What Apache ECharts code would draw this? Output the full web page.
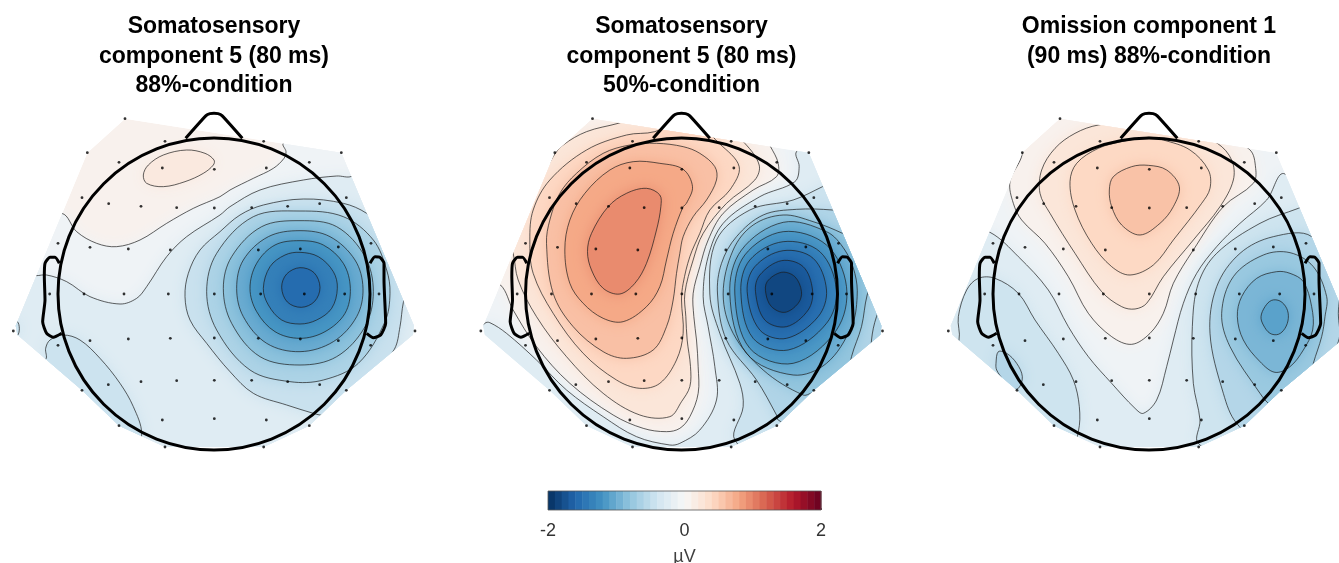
<!DOCTYPE html>
<html><head><meta charset="utf-8">
<style>html,body{margin:0;padding:0;background:#fff}#c{width:1339px;height:563px}</style>
<script src="https://cdn.jsdelivr.net/npm/echarts@6/dist/echarts.min.js"></script></head>
<body><div id="c"></div>
<script>
// Scalp coordinates: head radius = 468 units, nose up.
const titles = ['Somatosensory\ncomponent 5 (80 ms)\n88%-condition','Somatosensory\ncomponent 5 (80 ms)\n50%-condition','Omission component 1\n(90 ms) 88%-condition'];
const colorStops = ['#053061','#2166ac','#4393c3','#92c5de','#d1e5f0','#f7f7f7','#fddbc7','#f4a582','#d6604d','#b2182b','#67001f'];
const colorbarBins = [-2,-1.9,-1.8,-1.7,-1.6,-1.5,-1.4,-1.3,-1.2,-1.1,-1,-0.9,-0.8,-0.7,-0.6,-0.5,-0.4,-0.3,-0.2,-0.1,0,0.1,0.2,0.3,0.4,0.5,0.6,0.7,0.8,0.9,1,1.1,1.2,1.3,1.4,1.5,1.6,1.7,1.8,1.9];
const headRadius = 468;
const noseLine = [[-85,467],[-24,535],[-12,541],[0,542],[12,541],[24,535],[85,467]];
const earLeft = [[-464,92],[-477,110],[-492,110],[-507,92],[-509,52],[-507,-18],[-514,-83],[-502,-118],[-482,-130],[-457,-118]];
const earRight = [[468,92],[483,112],[498,110],[510,92],[510,42],[515,-88],[500,-123],[478,-131],[458,-118]];
const electrodes = [[-267,526],[-147,458],[-380,424],[-285,395],[-155,378],[1,374],[-396,289],[-316,271],[-219,263],[-112,259],[1,258],[-468,152],[-372,140],[-257,135],[-131,132],[-493,0],[-390,0],[-270,0],[-137,0],[1,0],[-602,-111],[-372,-140],[-257,-135],[-131,-133],[1,-132],[-468,-154],[-317,-272],[-219,-263],[-112,-260],[1,-259],[-396,-289],[-285,-395],[-155,-378],[1,-374],[-147,-459],[149,458],[382,424],[286,395],[157,378],[397,289],[317,271],[221,263],[113,259],[471,152],[373,141],[259,135],[133,132],[495,0],[392,0],[271,0],[140,0],[603,-111],[470,-154],[373,-140],[259,-135],[133,-133],[397,-289],[317,-272],[221,-263],[113,-259],[286,-395],[157,-378],[149,-459]];
const hull = [[-267,526],[382,424],[600,-95],[597,-122],[397,-289],[286,-395],[149,-459],[-147,-459],[-285,-395],[-396,-289],[-590,-122],[-595,-95],[-380,424]];

// Panel 1 contours
const p1Top = [[-212,357],[-197,387],[-152,417],[-82,432],[-27,422],[0,402],[-2,387],[-32,362],[-87,337],[-152,322],[-202,332]];
const p1Zero = [[-457,242],[-412,187],[-352,152],[-292,142],[-222,162],[-142,212],[-62,257],[18,292],[48,312],[118,347],[178,377],[210,407],[216,427],[208,452],[300,520],[760,50],[760,-250],[300,-580],[-300,-580],[-760,-250],[-620,230]];
const p1Lower = [[-534,55],[-502,57],[-442,37],[-372,-8],[-282,-30],[-232,-13],[-202,22],[-142,112],[-82,172],[18,237],[48,262],[138,312],[268,342],[368,354],[413,353],[480,400],[720,0],[720,-200],[300,-560],[-300,-560],[-720,-200],[-640,60]];
const p1Corner = [[-505,-196],[-505,-163],[-492,-138],[-452,-123],[-402,-138],[-342,-193],[-282,-268],[-242,-338],[-217,-418],[-240,-470],[-420,-370],[-560,-230]];
const p1Tip = [[-590,-83],[-590,-125],[-640,-125],[-640,-83]];
const p1Ring7 = [[18,187],[-42,132],[-77,62],[-87,-8],[-72,-78],[-22,-148],[48,-233],[118,-298],[218,-333],[298,-358],[318,-363],[388,-368],[458,-278],[541,-166],[558,-98],[568,-26],[588,42],[558,162],[458,242],[388,272],[268,285],[148,267],[78,237]];
const p1Ring6 = [[-22,7],[8,122],[118,232],[258,249],[388,232],[478,162],[518,72],[528,2],[513,-83],[433,-208],[328,-258],[228,-263],[108,-228],[8,-108]];
const p1Ring5 = [[28,17],[53,112],[143,202],[258,220],[368,202],[453,112],[478,7],[453,-98],[368,-188],[258,-213],[138,-188],[53,-88]];
const p1Ring4 = [[68,17],[88,102],[163,172],[258,190],[348,172],[423,102],[447,17],[428,-68],[358,-143],[258,-173],[158,-148],[88,-68]];
const p1Ring3 = [[108,17],[128,92],[183,147],[258,160],[328,147],[388,92],[409,17],[393,-58],[333,-113],[258,-133],[183,-113],[128,-53]];
const p1Ring2 = [[148,17],[168,82],[213,117],[258,125],[313,112],[358,67],[370,17],[353,-43],[308,-78],[258,-90],[203,-78],[163,-33]];
const p1Ring1 = [[203,20],[218,60],[258,79],[300,64],[318,20],[302,-22],[262,-40],[220,-24]];

// Panel 2 contours
const p2Red5 = [[-282,127],[-270,182],[-220,262],[-165,302],[-105,317],[-65,297],[-62,262],[-75,192],[-105,92],[-140,32],[-185,0],[-235,17],[-270,72]];
const p2Red4 = [[-350,132],[-335,222],[-290,302],[-215,372],[-145,397],[-65,392],[5,374],[33,322],[15,272],[5,262],[-25,182],[-45,102],[-65,22],[-105,-38],[-175,-83],[-235,-73],[-295,-28],[-335,32]];
const p2Red3 = [[-405,152],[-395,222],[-365,302],[-315,362],[-235,422],[-155,447],[-75,452],[5,442],[55,422],[100,382],[105,342],[75,282],[35,232],[5,172],[-5,122],[-15,62],[-25,-18],[-45,-98],[-85,-168],[-165,-193],[-235,-173],[-325,-98],[-385,2]];
const p2Red2 = [[-455,162],[-445,252],[-395,342],[-285,432],[-165,477],[-80,487],[20,530],[113,452],[173,382],[145,312],[85,252],[55,182],[25,112],[5,32],[0,-18],[5,-118],[-15,-198],[-65,-268],[-125,-283],[-195,-258],[-295,-178],[-385,-58],[-445,62]];
const p2Red1 = [[-190,512],[-285,487],[-355,447],[-385,412],[-455,282],[-525,182],[-505,122],[-490,42],[-435,-68],[-345,-188],[-235,-298],[-125,-363],[-35,-368],[0,-323],[25,-278],[27,-218],[17,-138],[13,-68],[10,2],[35,102],[65,182],[135,272],[220,342],[233,387],[190,452],[100,530],[0,550],[-100,540]];
const p2Zero = [[-543,27],[-505,-48],[-435,-158],[-335,-268],[-205,-363],[-115,-403],[-45,-413],[-5,-403],[25,-368],[50,-298],[50,-218],[45,-138],[37,-68],[35,2],[55,82],[80,162],[125,242],[215,312],[285,352],[290,392],[267,442],[200,560],[-300,640],[-560,300],[-640,80]];
const p2Blue1 = [[-590,-88],[-575,-86],[-525,-118],[-435,-198],[-345,-288],[-235,-368],[-135,-428],[-35,-453],[-5,-448],[55,-408],[105,-318],[100,-218],[80,-98],[65,-8],[80,112],[125,212],[235,292],[340,337],[353,382],[345,427],[420,470],[720,40],[720,-300],[300,-580],[-300,-580],[-660,-180]];
const p2Blue2 = [[423,322],[335,282],[205,252],[105,162],[85,0],[115,-118],[175,-268],[185,-338],[160,-438],[300,-520],[560,-300],[570,-138],[585,-68],[650,100],[520,370]];
const p2Blue3 = [[453,252],[345,254],[245,237],[165,172],[120,92],[108,0],[135,-138],[225,-258],[285,-363],[290,-378],[400,-430],[620,-200],[680,0],[540,240]];
const p2Blue4 = [[483,182],[395,217],[305,237],[215,207],[155,132],[125,0],[155,-118],[245,-228],[365,-303],[400,-296],[480,-330],[510,-188],[540,-98],[557,-3],[590,90],[540,150]];
const p2Blue5 = [[145,0],[180,132],[305,215],[435,187],[490,132],[520,62],[527,-8],[510,-98],[435,-208],[335,-243],[195,-178]];
const p2Blue6 = [[160,0],[190,117],[305,187],[435,147],[495,22],[465,-108],[335,-208],[205,-163]];
const p2Blue7 = [[178,7],[205,102],[305,157],[415,127],[465,12],[435,-88],[320,-168],[215,-133]];
const p2Blue8 = [[197,7],[220,82],[305,130],[395,107],[435,12],[410,-68],[315,-133],[235,-108]];
const p2Blue9 = [[222,7],[235,57],[300,100],[365,82],[393,12],[380,-48],[315,-98],[250,-78]];
const p2Blue10 = [[253,2],[257,37],[300,65],[340,52],[360,7],[350,-28],[310,-55],[270,-38]];

// Panel 3 contours
const p3Red3 = [[-119,312],[-107,352],[-52,382],[-2,386],[53,372],[91,322],[73,262],[33,212],[-27,177],[-82,207],[-112,262]];
const p3Red2 = [[-237,337],[-217,392],[-152,437],[-82,457],[-2,470],[43,462],[123,432],[178,372],[183,317],[158,272],[73,162],[13,87],[-57,57],[-112,82],[-172,152],[-222,252]];
const p3Red1 = [[-152,507],[-222,482],[-282,437],[-322,372],[-327,302],[-297,242],[-222,122],[-142,7],[-82,-38],[-42,-45],[-7,-28],[43,52],[133,162],[213,262],[253,342],[248,402],[205,452],[50,530]];
const p3Zero = [[-380,427],[-417,337],[-407,272],[-382,222],[-312,152],[-242,52],[-182,-58],[-112,-128],[-52,-151],[3,-118],[43,-58],[73,32],[133,132],[223,262],[313,332],[320,377],[301,434],[100,560],[-250,600],[-420,480]];
const p3Blue1 = [[-477,185],[-392,112],[-302,12],[-242,-98],[-182,-188],[-112,-268],[-42,-343],[-17,-358],[23,-318],[53,-218],[73,-138],[103,-28],[143,62],[203,142],[273,212],[353,282],[408,360],[700,100],[720,-300],[300,-580],[-300,-580],[-720,-200],[-560,200]];
const p3Blue2L = [[-570,-138],[-572,-68],[-547,12],[-512,47],[-462,47],[-392,2],[-342,-78],[-272,-178],[-227,-258],[-209,-338],[-212,-413],[-240,-480],[-430,-380],[-600,-200]];
const p3Blue2R = [[148,-448],[153,-378],[133,-268],[130,-98],[148,32],[203,122],[333,212],[448,257],[560,300],[720,0],[660,-300],[300,-520]];
const p3Blue3L = [[-459,-208],[-452,-173],[-427,-178],[-397,-208],[-380,-248],[-392,-283],[-417,-283],[-437,-258],[-457,-228]];
const p3Blue3R = [[263,-388],[223,-298],[183,-118],[203,22],[273,122],[373,172],[488,172],[568,23],[568,-58],[568,-143],[480,-300],[340,-440]];
const p3Blue4 = [[358,-328],[333,-298],[243,-158],[218,-58],[253,52],[343,117],[423,124],[493,82],[533,-8],[528,-68],[518,-128],[493,-208],[470,-300],[400,-360]];
const p3Blue5 = [[383,67],[323,47],[278,-8],[265,-68],[283,-138],[333,-203],[378,-235],[423,-218],[463,-168],[491,-108],[488,-38],[463,37],[423,62]];
const p3Blue6 = [[336,-68],[348,-38],[368,-19],[393,-21],[413,-43],[418,-73],[408,-103],[388,-121],[363,-118],[343,-93]];

// [has a contour line (0: none), value in µV painted inside it, outline]
const panel1Layers = [[0,0.083,hull],[1,0.2,p1Top],[1,-0.083,p1Zero],[1,-0.25,p1Lower],[1,-0.43,p1Corner],[1,-0.43,p1Tip],[1,-0.45,p1Ring7],[1,-0.63,p1Ring6],[1,-0.82,p1Ring5],[1,-1.0,p1Ring4],[1,-1.18,p1Ring3],[1,-1.37,p1Ring2],[1,-1.55,p1Ring1]];
const panel2Layers = [[0,-0.083,hull],[1,0.083,p2Zero],[1,0.25,p2Red1],[1,0.42,p2Red2],[1,0.6,p2Red3],[1,0.77,p2Red4],[1,0.95,p2Red5],[1,-0.25,p2Blue1],[1,-0.43,p2Blue2],[1,-0.61,p2Blue3],[1,-0.79,p2Blue4],[1,-0.97,p2Blue5],[1,-1.15,p2Blue6],[1,-1.33,p2Blue7],[1,-1.51,p2Blue8],[1,-1.68,p2Blue9],[1,-1.83,p2Blue10]];
const panel3Layers = [[0,-0.083,hull],[1,0.083,p3Zero],[1,0.25,p3Red1],[1,0.417,p3Red2],[1,0.583,p3Red3],[1,-0.25,p3Blue1],[1,-0.417,p3Blue2L],[1,-0.417,p3Blue2R],[1,-0.583,p3Blue3L],[1,-0.583,p3Blue3R],[1,-0.75,p3Blue4],[1,-0.917,p3Blue5],[1,-1.083,p3Blue6]];
const panels = [panel1Layers,panel2Layers,panel3Layers];
const panelCentersPx = [214,681.5,1149];

const ramp = v => echarts.color.lerp((v+2)/4, colorStops);
const chart = echarts.init(document.getElementById('c'),null,{renderer:'canvas'});
const halfSpan = 570, gridPx = 380, gridTop = 104;

function shapeSeries(i, mode){
  const layers = panels[i];
  const idx = layers.map((l,k)=>k).filter(k=> mode==='fill' || layers[k][0]);
  return {
    type:'custom', coordinateSystem:'cartesian2d', xAxisIndex:i, yAxisIndex:i, clip:false, silent:true, z: mode==='fill'?1:2,
    data: idx.map(k=>[0,0,k]),
    encode:{x:0,y:1},
    renderItem(params,api){
      const l = layers[api.value(2)];
      const pts = l[2].map(p=>api.coord(p));
      const clipPts = hull.map(p=>api.coord(p));
      const isHull = l[2]===hull;
      const col = ramp(l[1]);
      return {
        type:'polygon',
        shape:{points:pts, smooth:isHull?0:0.35},
        clipPath:{type:'polygon',shape:{points:clipPts}},
        style: mode==='fill'
          ? {fill:col, stroke:null, shadowBlur:isHull?0:14, shadowColor:col}
          : {fill:'none', stroke:'#1c1c1c', lineWidth:0.7}
      };
    }
  };
}

const option = {
  animation:false,
  backgroundColor:'#fff',
  title: titles.map((t,i)=>({text:t,left:panelCentersPx[i],top:12,padding:0,textAlign:'center',
    textStyle:{fontFamily:'Liberation Sans',fontWeight:'bold',fontSize:23,lineHeight:29.5,color:'#000'}})),
  grid: panelCentersPx.map(c=>({left:c-gridPx/2,top:gridTop,width:gridPx,height:gridPx,outerBoundsMode:'none'}))
    .concat([{left:548,top:491,width:273,height:19,show:true,borderColor:'#555',borderWidth:0.8,backgroundColor:'transparent',z:5,outerBoundsMode:'none'}]),
  xAxis: panelCentersPx.map((c,i)=>({type:'value',gridIndex:i,min:-halfSpan,max:halfSpan,show:false}))
    .concat([{type:'value',gridIndex:3,min:-2,max:2,interval:2,name:'µV',nameLocation:'middle',nameGap:38,
      nameTextStyle:{fontFamily:'Liberation Sans',fontSize:18,color:'#404040'},
      axisLine:{show:false},splitLine:{show:false},axisTick:{show:true,inside:true,length:2,lineStyle:{color:'#333',width:0.7}},
      axisLabel:{fontFamily:'Liberation Sans',fontSize:18,color:'#333',margin:12}}]),
  yAxis: panelCentersPx.map((c,i)=>({type:'value',gridIndex:i,min:-halfSpan,max:halfSpan,show:false}))
    .concat([{type:'value',gridIndex:3,min:0,max:1,show:false}]),
  series:[]
};
panels.forEach((p,i)=>{
  option.series.push(shapeSeries(i,'fill'));
  option.series.push(shapeSeries(i,'line'));
  [noseLine,earLeft,earRight].forEach(path=>option.series.push({type:'line',xAxisIndex:i,yAxisIndex:i,data:path,smooth:0.2,symbol:'none',clip:false,silent:true,z:3,
    lineStyle:{color:'#000',width:3}}));
  option.series.push({type:'custom',coordinateSystem:'cartesian2d',xAxisIndex:i,yAxisIndex:i,clip:false,silent:true,z:3,
    data:[[0,0,headRadius]],
    renderItem(params,api){
      const c=api.coord([api.value(0),api.value(1)]);
      return {type:'circle',shape:{cx:c[0],cy:c[1],r:api.size([api.value(2),0])[0]},style:{fill:'none',stroke:'#000',lineWidth:3}};
    }});
  option.series.push({type:'scatter',xAxisIndex:i,yAxisIndex:i,data:electrodes,symbolSize:2.8,clip:false,silent:true,z:4,itemStyle:{color:'#000'}});
});
option.series.push({type:'custom',coordinateSystem:'cartesian2d',xAxisIndex:3,yAxisIndex:3,silent:true,z:1,
  data:colorbarBins.map(v=>[v,0]),
  renderItem(params,api){
    const v=api.value(0);
    const a=api.coord([v,1]), b=api.coord([v+0.1,0]);
    return {type:'rect',shape:{x:a[0],y:a[1],width:b[0]-a[0]+0.5,height:b[1]-a[1]},style:{fill:ramp(v+0.05)}};
  }});
chart.setOption(option);
</script></body></html>
